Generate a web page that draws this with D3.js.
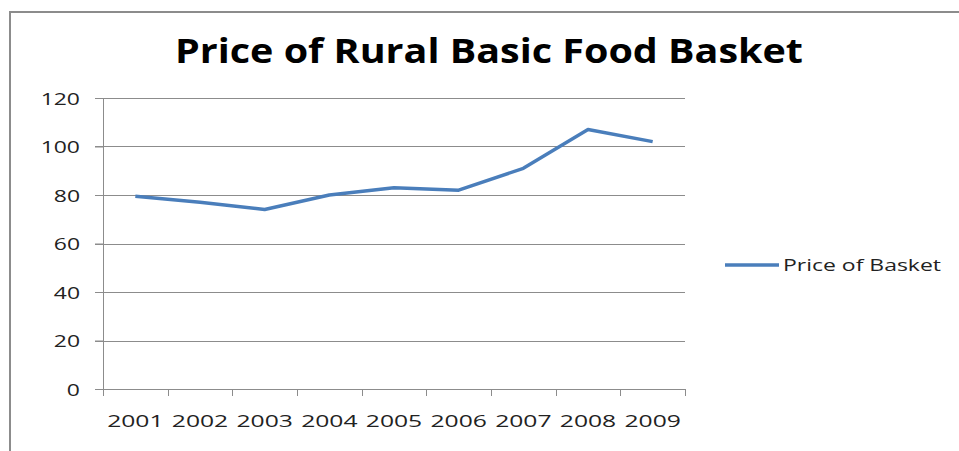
<!DOCTYPE html>
<html>
<meta charset="utf-8">
<style>
  body { margin: 0; background: #fff; }
  svg { width: 959px; height: 451px; display: block; }
  text { font-family: "Open Sans", sans-serif; fill: #222; }
</style>
<body>
  <svg></svg>
</body>
<script src="https://d3js.org/d3.v7.min.js"></script>
<script>

  var years = ["2001", "2002", "2003", "2004", "2005", "2006", "2007", "2008", "2009"];
  var prices = [79.5, 77, 74, 80, 83, 82, 91, 107, 102];
  var yTicks = [0, 20, 40, 60, 80, 100, 120];
  var seriesName = "Price of Basket";
  var title = "Price of Rural Basic Food Basket";

  var margin = {top: 98, right: 274, bottom: 62, left: 103},
      width = 959 - margin.left - margin.right,
      height = 451 - margin.top - margin.bottom;

  var svg = d3.select("svg");

  // outer chart border (right and bottom edges are cut off)
  svg.append("path")
    .attr("d", "M10,451 V12 H959")
    .attr("fill", "none")
    .attr("stroke", "#8c8c8c")
    .attr("stroke-width", 2);

  // stretch text horizontally like the source picture
  function stretch(sel, k) {
    sel.each(function() {
      var w = this.getComputedTextLength();
      d3.select(this).attr("textLength", w * k).attr("lengthAdjust", "spacingAndGlyphs");
    });
  }

  svg.append("text")
    .attr("x", 489)
    .attr("y", 63)
    .attr("text-anchor", "middle")
    .style("font-size", "34px")
    .style("font-weight", "bold")
    .style("fill", "#000")
    .text(title)
    .attr("textLength", 628)
    .attr("lengthAdjust", "spacingAndGlyphs");

  var g = svg.append("g").attr("transform", "translate(" + margin.left + "," + margin.top + ")");

  var x = d3.scaleBand().domain(years).range([0, width]);
  var y = d3.scaleLinear().domain([0, 120]).range([height, 0]);

  // gridlines
  g.selectAll("line.grid")
    .data(yTicks.filter(function(d) { return d > 0; }))
    .enter().append("line")
    .attr("class", "grid")
    .attr("x1", -8).attr("x2", width)
    .attr("y1", function(d) { return Math.round(y(d)) + 0.5; })
    .attr("y2", function(d) { return Math.round(y(d)) + 0.5; })
    .attr("stroke", "#8c8c8c");

  var yAxis = g.append("g")
    .call(d3.axisLeft(y).tickValues(yTicks).tickSize(8).tickPadding(15));
  yAxis.select(".domain").attr("stroke", "#8c8c8c").attr("d", "M0.5," + height + "V0");
  yAxis.selectAll(".tick line").attr("stroke", "#8c8c8c");
  yAxis.selectAll("text").style("font-size", "17px").style("fill", "#222")
    .attr("dy", "0.36em").call(stretch, 1.35);

  var xAxis = g.append("g")
    .attr("transform", "translate(0," + height + ")")
    .call(d3.axisBottom(x).tickSize(0).tickPadding(26));
  xAxis.select(".domain").attr("stroke", "#8c8c8c").attr("d", "M0," + 0.5 + "H" + (width + 0.5));
  xAxis.selectAll("text").style("font-size", "17px").style("fill", "#222")
    .call(stretch, 1.45);

  // x tick marks at band boundaries
  g.selectAll("line.xtick")
    .data(years.concat(["end"]))
    .enter().append("line")
    .attr("class", "xtick")
    .attr("x1", function(d, i) { return Math.round(i * x.step()) + 0.5; })
    .attr("x2", function(d, i) { return Math.round(i * x.step()) + 0.5; })
    .attr("y1", height).attr("y2", height + 7)
    .attr("stroke", "#8c8c8c");

  var line = d3.line()
    .x(function(d, i) { return x(years[i]) + x.bandwidth() / 2; })
    .y(function(d) { return y(d); });

  g.append("path")
    .datum(prices)
    .attr("fill", "none")
    .attr("stroke", "#4a7ebb")
    .attr("stroke-width", 3.5)
    .attr("stroke-linejoin", "round")
    .attr("d", line);

  // legend
  var legend = svg.append("g").attr("transform", "translate(725,265)");
  legend.append("line")
    .attr("x1", 0).attr("x2", 54)
    .attr("stroke", "#4a7ebb").attr("stroke-width", 3.5);
  legend.append("text")
    .attr("x", 58).attr("dy", "0.36em")
    .style("font-size", "17px")
    .text(seriesName)
    .attr("textLength", 158)
    .attr("lengthAdjust", "spacingAndGlyphs");

</script>
</html>
